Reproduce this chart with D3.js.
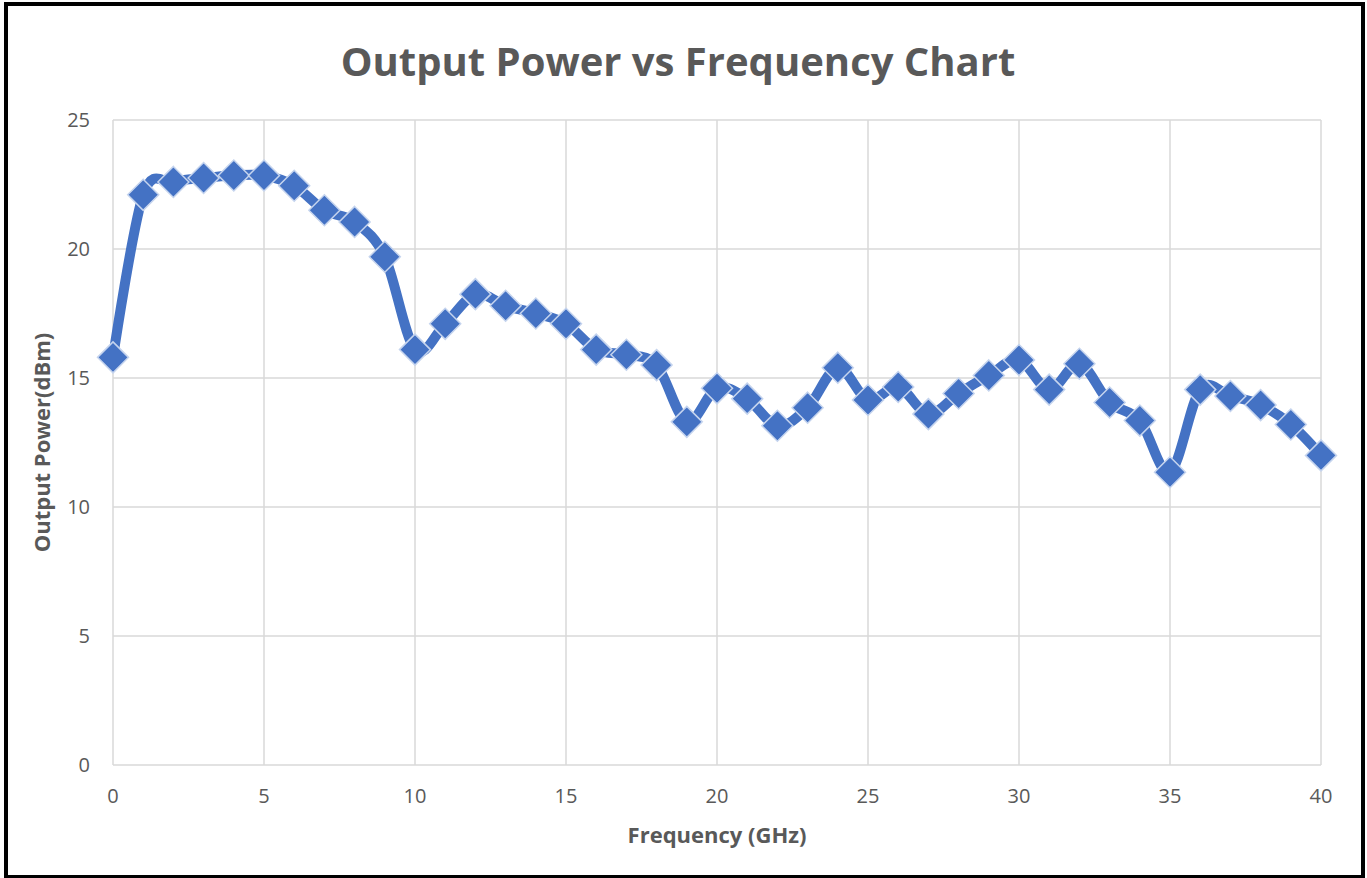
<!DOCTYPE html>
<html>
<head>
<meta charset="utf-8">
<script src="https://cdn.jsdelivr.net/npm/d3@7"></script>
<style>
  body { margin: 0; background: #fff; }
  text { font-family: "Open Sans", "Noto Sans", sans-serif; fill: #595959; }
</style>
</head>
<body>
<script>
'use strict';

let frequency = d3.range(0, 41);
let power = [
  15.8, 22.1, 22.6, 22.75, 22.85, 22.85, 22.45, 21.5, 21.05, 19.7,
  16.1, 17.1, 18.25, 17.8, 17.5, 17.1, 16.1, 15.9, 15.5, 13.3,
  14.6, 14.2, 13.15, 13.85, 15.4, 14.15, 14.65, 13.6, 14.4, 15.1,
  15.7, 14.55, 15.55, 14.05, 13.35, 11.35, 14.55, 14.3, 13.95, 13.2,
  12.0
];
let xTicks = [0, 5, 10, 15, 20, 25, 30, 35, 40];
let yTicks = [0, 5, 10, 15, 20, 25];

let width = 1367;
let height = 878;
let margin = {top: 120, right: 46, bottom: 113, left: 113};

let svg = d3.select('body').append('svg')
    .attr('width', width)
    .attr('height', height);

// outer frame
svg.append('rect')
    .attr('x', 6).attr('y', 4)
    .attr('width', width - 10).attr('height', height - 5)
    .attr('fill', '#fff')
    .attr('stroke', '#000')
    .attr('stroke-width', 4);

let x = d3.scaleLinear().domain([0, 40]).range([margin.left, width - margin.right]);
let y = d3.scaleLinear().domain([0, 25]).range([height - margin.bottom, margin.top]);

// gridlines
svg.append('g')
  .selectAll('line.v')
  .data(xTicks)
  .enter().append('line')
    .attr('x1', d => x(d)).attr('x2', d => x(d))
    .attr('y1', y(25)).attr('y2', y(0))
    .attr('stroke', '#d9d9d9')
    .attr('stroke-width', 1.5);

svg.append('g')
  .selectAll('line.h')
  .data(yTicks)
  .enter().append('line')
    .attr('x1', x(0)).attr('x2', x(40))
    .attr('y1', d => y(d)).attr('y2', d => y(d))
    .attr('stroke', '#d9d9d9')
    .attr('stroke-width', 1.5);

// tick labels
svg.append('g')
  .selectAll('text')
  .data(xTicks)
  .enter().append('text')
    .attr('x', d => x(d))
    .attr('y', y(0) + 38)
    .attr('text-anchor', 'middle')
    .style('font-size', '20px')
    .text(d => d);

svg.append('g')
  .selectAll('text')
  .data(yTicks)
  .enter().append('text')
    .attr('x', x(0) - 23)
    .attr('y', d => y(d) + 7)
    .attr('text-anchor', 'end')
    .style('font-size', '20px')
    .text(d => d);

// series
let pts = frequency.map((f, i) => [f, power[i]]);

let line = d3.line()
    .x(d => x(d[0]))
    .y(d => y(d[1]))
    .curve(d3.curveCardinal);

svg.append('path')
    .datum(pts)
    .attr('d', line)
    .attr('fill', 'none')
    .attr('stroke', '#4472c4')
    .attr('stroke-width', 10)
    .attr('stroke-linejoin', 'round');

let r = 15.5;
svg.append('g')
  .selectAll('path')
  .data(pts)
  .enter().append('path')
    .attr('transform', d => 'translate(' + x(d[0]) + ',' + y(d[1]) + ')')
    .attr('d', 'M0,' + (-r) + 'L' + r + ',0L0,' + r + 'L' + (-r) + ',0Z')
    .attr('fill', '#4472c4')
    .attr('stroke', '#c5d4ee')
    .attr('stroke-width', 1.5);

// titles
svg.append('text')
    .attr('x', 678)
    .attr('y', 76)
    .attr('text-anchor', 'middle')
    .style('font-size', '40px')
    .style('font-weight', 'bold')
    .text('Output Power vs Frequency Chart');

svg.append('text')
    .attr('x', x(20))
    .attr('y', 843)
    .attr('text-anchor', 'middle')
    .style('font-size', '22px')
    .style('font-weight', 'bold')
    .text('Frequency (GHz)');

svg.append('text')
    .attr('transform', 'translate(50,' + y(12.5) + ') rotate(-90)')
    .attr('text-anchor', 'middle')
    .style('font-size', '22px')
    .style('font-weight', 'bold')
    .text('Output Power(dBm)');
</script>
</body>
</html>
